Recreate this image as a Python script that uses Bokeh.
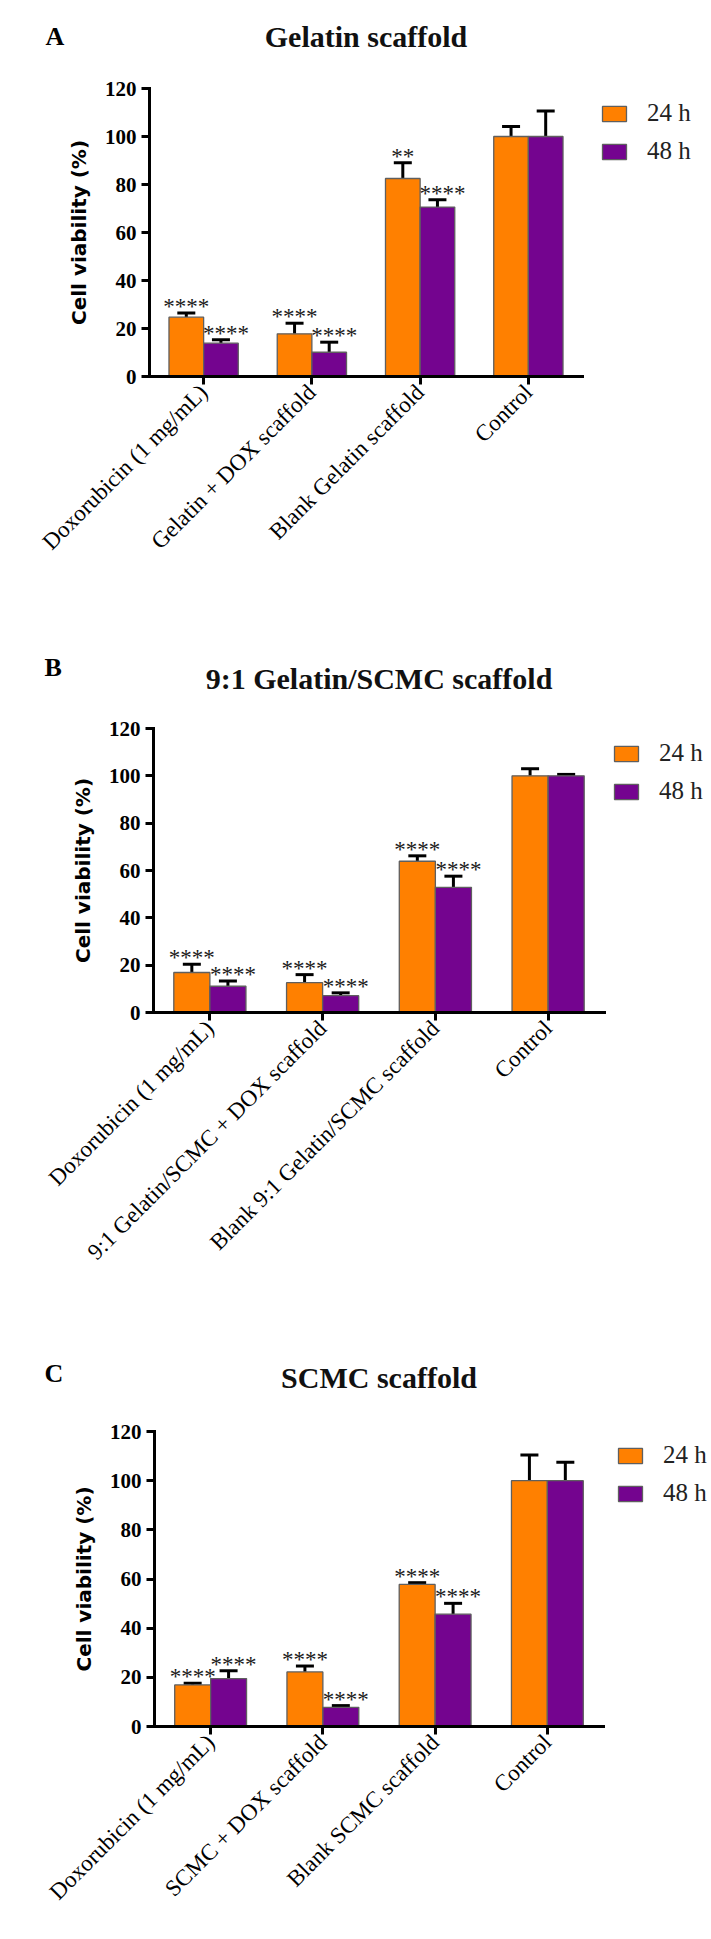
import math
from bokeh.plotting import figure
from bokeh.models import (ColumnDataSource, Range1d, Whisker, TeeHead, Legend, LegendItem,
                          Label, LinearAxis, FixedTicker)
from bokeh.layouts import column
from bokeh.embed import file_html
from bokeh.resources import INLINE
from bokeh.core.properties import value

ORANGE = "#FF8000"
PURPLE = "#74048F"
EDGE = "#5f5f5f"
SERIF = "Liberation Serif"
SANS = "DejaVu Sans"

series_labels = ["24 h", "48 h"]
y_ticks = [0, 20, 40, 60, 80, 100, 120]

# ---- Panel A: Gelatin scaffold ----
cats_a = ["Doxorubicin (1 mg/mL)", "Gelatin + DOX scaffold", "Blank Gelatin scaffold", "Control"]
a_24 = [24.7, 17.8, 82.5, 100.0]
a_24_err = [1.8, 4.4, 6.6, 4.2]
a_48 = [13.9, 10.1, 70.6, 100.0]
a_48_err = [1.4, 4.2, 3.0, 10.6]
a_sig_24 = ["****", "****", "**", ""]
a_sig_48 = ["****", "****", "****", ""]

# ---- Panel B: 9:1 Gelatin/SCMC scaffold ----
cats_b = ["Doxorubicin (1 mg/mL)", "9:1 Gelatin/SCMC + DOX scaffold",
          "Blank 9:1 Gelatin/SCMC scaffold", "Control"]
b_24 = [16.9, 12.6, 63.9, 100.0]
b_24_err = [3.5, 3.4, 2.3, 3.0]
b_48 = [11.1, 7.1, 52.9, 100.0]
b_48_err = [2.2, 1.2, 4.7, 0.6]
b_sig_24 = ["****", "****", "****", ""]
b_sig_48 = ["****", "****", "****", ""]

# ---- Panel C: SCMC scaffold ----
cats_c = ["Doxorubicin (1 mg/mL)", "SCMC + DOX scaffold", "Blank SCMC scaffold", "Control"]
c_24 = [16.9, 22.2, 57.8, 100.0]
c_24_err = [0.7, 2.4, 0.7, 10.4]
c_48 = [19.5, 7.8, 45.7, 100.0]
c_48_err = [3.2, 0.7, 4.4, 7.5]
c_sig_24 = ["****", "****", "****", ""]
c_sig_48 = ["****", "****", "****", ""]

W = 710
BAR_W = 0.32


def make_panel(letter, title, cats, v24, e24, v48, e48, s24, s48,
               H, left, right, top, zero, legend_xy, letter_xy, title_y):
    cw = (right - left) / len(cats)          # pixels per category
    ppu = (zero - top) / 120.0               # pixels per % unit
    centers = [i + 0.5 for i in range(len(cats))]
    u24 = [v + e for v, e in zip(v24, e24)]
    u48 = [v + e for v, e in zip(v48, e48)]
    src = ColumnDataSource(dict(
        x24=[c - BAR_W / 2 for c in centers], x48=[c + BAR_W / 2 for c in centers],
        xs48=[c + BAR_W / 2 + 5.0 / cw for c in centers],
        v24=v24, v48=v48, u24=u24, u48=u48,
        t24=[u + 6.5 / ppu for u in u24], t48=[u + 6.5 / ppu for u in u48],
        s24=s24, s48=s48))

    p = figure(width=W, height=H,
               x_range=Range1d(-left / cw, (W - left) / cw),
               y_range=Range1d(-(H - zero) / ppu, 120 + top / ppu),
               x_axis_location=None, y_axis_location=None,
               min_border=0, min_border_left=0, min_border_right=0,
               min_border_top=0, min_border_bottom=0,
               output_backend="svg", toolbar_location=None)
    p.outline_line_color = None
    p.grid.visible = False
    p.background_fill_color = "white"
    p.border_fill_color = "white"

    r24 = p.vbar(x="x24", top="v24", bottom=0, width=BAR_W, source=src,
                 fill_color=ORANGE, line_color=EDGE, line_width=1.3)
    r48 = p.vbar(x="x48", top="v48", bottom=0, width=BAR_W, source=src,
                 fill_color=PURPLE, line_color=EDGE, line_width=1.3)

    for xb, lo, up in [("x24", "v24", "u24"), ("x48", "v48", "u48")]:
        p.add_layout(Whisker(source=src, base=xb, lower=lo, upper=up,
                             dimension="height", line_width=3, line_color="black",
                             upper_head=TeeHead(size=18, line_width=3, line_color="black"),
                             lower_head=None))

    for xc, yc, tc in [("x24", "t24", "s24"), ("xs48", "t48", "s48")]:
        p.text(x=xc, y=yc, text=tc, source=src, text_font=value(SERIF),
               text_font_size="23px", text_align="center", text_baseline="alphabetic",
               text_color="#1a1a1a")

    yax = LinearAxis(fixed_location=0, bounds=(0, 120), ticker=FixedTicker(ticks=y_ticks))
    xax = LinearAxis(fixed_location=0, bounds=(0, len(cats)),
                     ticker=FixedTicker(ticks=centers),
                     major_label_overrides={c: n for c, n in zip(centers, cats)})
    for ax in (xax, yax):
        ax.axis_line_width = 3
        ax.axis_line_color = "black"
        ax.axis_line_cap = "square"
        ax.major_tick_line_width = 3
        ax.major_tick_line_color = "black"
        ax.major_tick_out = 8
        ax.major_tick_in = 0
        ax.minor_tick_line_color = None
        ax.major_label_text_color = "black"

    yax.major_label_text_font = SERIF
    yax.major_label_text_font_style = "bold"
    yax.major_label_text_font_size = "21px"
    yax.major_label_standoff = 5
    yax.axis_label = "Cell viability (%)"
    yax.axis_label_text_font = SANS
    yax.axis_label_text_font_style = "bold"
    yax.axis_label_text_font_size = "20px"
    yax.axis_label_text_color = "black"
    yax.axis_label_standoff = 11

    xax.major_label_orientation = math.pi / 4
    xax.major_label_text_font = SERIF
    xax.major_label_text_font_size = "23px"
    xax.major_label_standoff = 4

    p.add_layout(yax, "left")
    p.add_layout(xax, "below")

    legend = Legend(items=[LegendItem(label=series_labels[0], renderers=[r24]),
                           LegendItem(label=series_labels[1], renderers=[r48])],
                    location=legend_xy, orientation="vertical",
                    glyph_width=30, glyph_height=19, label_height=19, spacing=10,
                    padding=0, margin=0, border_line_alpha=0, background_fill_alpha=0,
                    label_standoff=18, label_text_font=SERIF, label_text_font_size="25px",
                    label_text_color="#222222")
    p.add_layout(legend)

    p.add_layout(Label(x=letter_xy[0], y=H - letter_xy[1], x_units="screen", y_units="screen",
                       text=letter, text_font=SERIF, text_font_style="bold",
                       text_font_size="26px", text_color="black",
                       text_align="left", text_baseline="middle"))
    p.add_layout(Label(x=(left + right) / 2, y=H - title_y, x_units="screen", y_units="screen",
                       text=title, text_font=SERIF, text_font_style="bold",
                       text_font_size="30px", text_color="#111111",
                       text_align="center", text_baseline="middle"))
    return p


pa = make_panel("A", "Gelatin scaffold", cats_a, a_24, a_24_err, a_48, a_48_err,
                a_sig_24, a_sig_48, H=615, left=149, right=582, top=88, zero=376,
                legend_xy=(599, 450), letter_xy=(45, 36), title_y=36)
pb = make_panel("B", "9:1 Gelatin/SCMC scaffold", cats_b, b_24, b_24_err, b_48, b_48_err,
                b_sig_24, b_sig_48, H=675, left=153, right=604, top=113, zero=397,
                legend_xy=(611, 485), letter_xy=(44, 52), title_y=63)
pc = make_panel("C", "SCMC scaffold", cats_c, c_24, c_24_err, c_48, c_48_err,
                c_sig_24, c_sig_48, H=640, left=154, right=603, top=141, zero=436,
                legend_xy=(615, 423), letter_xy=(44, 83), title_y=87)

layout = column(pa, pb, pc, spacing=0)
open("out.html", "w").write(file_html(layout, INLINE))
